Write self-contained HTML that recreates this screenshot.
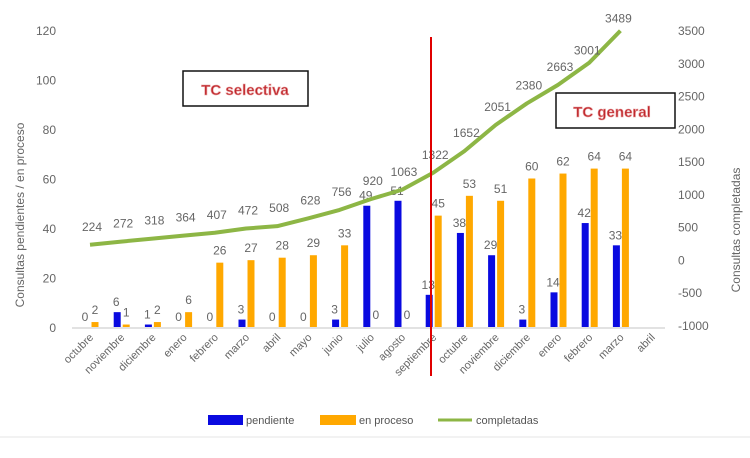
<!DOCTYPE html>
<html><head><meta charset="utf-8"><style>
body{margin:0;background:#fff;}
svg{display:block;font-family:"Liberation Sans",sans-serif;}
</style></head><body>
<svg id="c" width="750" height="458"></svg>
<script>
const cats=["octubre","noviembre","diciembre","enero","febrero","marzo","abril","mayo","junio","julio","agosto","septiembre","octubre","noviembre","diciembre","enero","febrero","marzo","abril"];
const pendiente=[0,6,1,0,0,3,0,0,3,49,51,13,38,29,3,14,42,33,null];
const enproceso=[2,1,2,6,26,27,28,29,33,0,0,45,53,51,60,62,64,64,null];
const completadas=[224,272,318,364,407,472,508,628,756,920,1063,1322,1652,2051,2380,2663,3001,3489,null];
const leftTicks=[0,20,40,60,80,100,120];
const rightTicks=[-1000,-500,0,500,1000,1500,2000,2500,3000,3500];
const svg=document.getElementById('c');const NS='http://www.w3.org/2000/svg';
function mk(t,a,txt,name,inter){const e=document.createElementNS(NS,t);for(const k in a)e.setAttribute(k,a[k]);if(txt!=null)e.textContent=txt;


svg.appendChild(e);return e;}
const xC=i=>90+i*31.2;
const yL=v=>327-v*(297/120);
const yR=v=>325-(v+1000)*(295/4500);
leftTicks.forEach(v=>mk('text',{x:56,y:yL(v)+5,'text-anchor':'end','font-size':12,fill:'#666'},v,'left-tick-'+v));
rightTicks.forEach(v=>mk('text',{x:678,y:yR(v)+5,'font-size':12,fill:'#666'},v,'right-tick-'+v));
mk('line',{x1:72,x2:665,y1:328,y2:328,stroke:'#d9d9d9','stroke-width':1.5},null,'baseline');
mk('text',{x:0,y:0,transform:'translate(24,215) rotate(-90)','text-anchor':'middle','font-size':12,fill:'#666'},'Consultas pendientes / en proceso','left-axis-title');
mk('text',{x:0,y:0,transform:'translate(740,230) rotate(-90)','text-anchor':'middle','font-size':12,fill:'#666'},'Consultas completadas','right-axis-title');
cats.forEach((c,i)=>{mk('text',{x:0,y:0,transform:`translate(${xC(i)+4},338) rotate(-45)`,'text-anchor':'end','font-size':11,fill:'#666'},c,'x-label-'+i);});
pendiente.forEach((v,i)=>{if(v==null)return;const x=xC(i)-4;
 if(v>0)mk('rect',{x:x-3.5,y:yL(v),width:7,height:327-yL(v),fill:'#0a0ae0'},null,'bar-pendiente-'+i);
 mk('text',{x:x-1,y:yL(v)-6,'text-anchor':'middle','font-size':12,fill:'#666'},v,'label-pendiente-'+i);});
enproceso.forEach((v,i)=>{if(v==null)return;const x=xC(i)+5;
 if(v>0)mk('rect',{x:x-3.5,y:yL(v),width:7,height:327-yL(v),fill:'#ffa800'},null,'bar-enproceso-'+i);
 mk('text',{x:x,y:yL(v)-8,'text-anchor':'middle','font-size':12,fill:'#666'},v,'label-enproceso-'+i);});
let d='';completadas.forEach((v,i)=>{if(v==null)return;d+=(d?'L':'M')+xC(i)+','+yR(v);});
mk('path',{d:d,fill:'none',stroke:'#8db645','stroke-width':4,'stroke-linejoin':'round'},null,'line-completadas');
completadas.forEach((v,i)=>{if(v==null)return;const last=i===16||i===17;mk('text',{x:xC(i)+(last?-2:2),y:yR(v)-(last?8:14),'text-anchor':'middle','font-size':12,fill:'#666'},v,'label-completadas-'+i);});
mk('line',{x1:431,x2:431,y1:37,y2:376,stroke:'#e00000','stroke-width':2},null,'divider-line');
mk('rect',{x:183,y:71,width:125,height:35,fill:'#fff',stroke:'#111','stroke-width':1.5},null,'tc-selectiva-box');
mk('text',{x:245,y:95,'text-anchor':'middle','font-size':15,'font-weight':'bold',fill:'#c0282d',stroke:'#e8a0a0','stroke-width':0.6},'TC selectiva','tc-selectiva-label');
mk('rect',{x:556,y:93,width:119,height:35,fill:'#fff',stroke:'#111','stroke-width':1.5},null,'tc-general-box');
mk('text',{x:612,y:117,'text-anchor':'middle','font-size':15,'font-weight':'bold',fill:'#c0282d',stroke:'#e8a0a0','stroke-width':0.6},'TC general','tc-general-label');
mk('rect',{x:208,y:415,width:35,height:10,fill:'#0a0ae0'},null,'legend-pendiente-swatch');
mk('text',{x:246,y:424,'font-size':11,fill:'#555'},'pendiente','legend-pendiente');
mk('rect',{x:320,y:415,width:36,height:10,fill:'#ffa800'},null,'legend-enproceso-swatch');
mk('text',{x:359,y:424,'font-size':11,fill:'#555'},'en proceso','legend-enproceso');
mk('line',{x1:438,x2:472,y1:420,y2:420,stroke:'#8db645','stroke-width':3},null,'legend-completadas-swatch');
mk('text',{x:476,y:424,'font-size':11,fill:'#555'},'completadas','legend-completadas');
mk('line',{x1:0,x2:750,y1:437,y2:437,stroke:'#e6e6e6','stroke-width':1},null,'bottom-border');
</script></body></html>
